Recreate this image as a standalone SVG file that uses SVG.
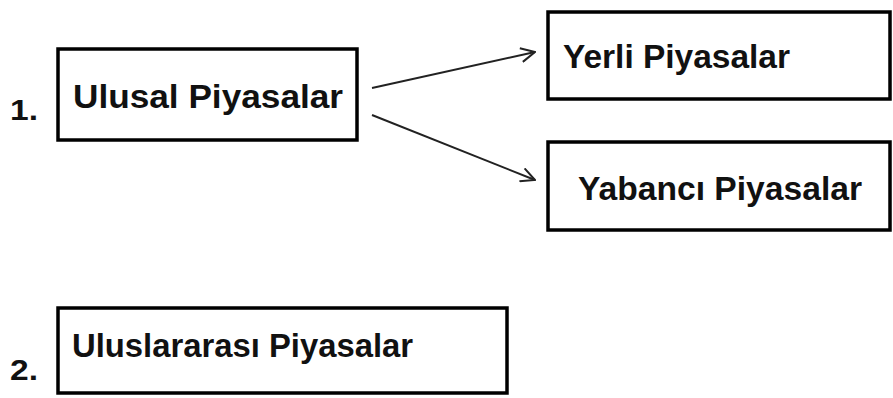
<svg xmlns="http://www.w3.org/2000/svg" width="893" height="398" viewBox="0 0 893 398">
<style>
.box{fill:#fff;stroke:#000;stroke-width:3.5}
.t{font-family:"Liberation Sans",Arial,sans-serif;font-weight:bold;font-size:34px;fill:#111}
.n{font-family:"Liberation Sans",Arial,sans-serif;font-weight:bold;font-size:30px;fill:#111}
.c{stroke:#222;stroke-width:2;fill:none}
</style>
<defs>
<marker id="ah" viewBox="0 0 16 16" refX="15" refY="8" markerWidth="16" markerHeight="16" markerUnits="userSpaceOnUse" orient="auto">
<path d="M1,1 L15,8 L1,15" fill="none" stroke="#222" stroke-width="2"/>
</marker>
</defs>
<rect width="893" height="398" fill="#fff"/>
<g id="n1">
<text class="n" x="10" y="120" textLength="28" lengthAdjust="spacingAndGlyphs">1.</text>
<rect class="box" x="58" y="49" width="299" height="91"/>
<text class="t" x="73" y="108" textLength="270" lengthAdjust="spacingAndGlyphs">Ulusal Piyasalar</text>
</g>
<g id="yerli">
<rect class="box" x="548" y="12" width="342" height="87"/>
<text class="t" x="563" y="68" textLength="227" lengthAdjust="spacingAndGlyphs">Yerli Piyasalar</text>
</g>
<g id="yabanci">
<rect class="box" x="548" y="142" width="342" height="88"/>
<text class="t" x="578" y="200" textLength="284" lengthAdjust="spacingAndGlyphs">Yabancı Piyasalar</text>
</g>
<g id="n2">
<text class="n" x="10" y="380" textLength="28" lengthAdjust="spacingAndGlyphs">2.</text>
<rect class="box" x="58" y="308" width="449" height="85"/>
<text class="t" x="72" y="357" textLength="341" lengthAdjust="spacingAndGlyphs">Uluslararası Piyasalar</text>
</g>
<g id="connectors">
<line class="c" x1="372" y1="88" x2="535" y2="52" marker-end="url(#ah)"/>
<line class="c" x1="372" y1="115" x2="535" y2="180" marker-end="url(#ah)"/>
</g>
</svg>
